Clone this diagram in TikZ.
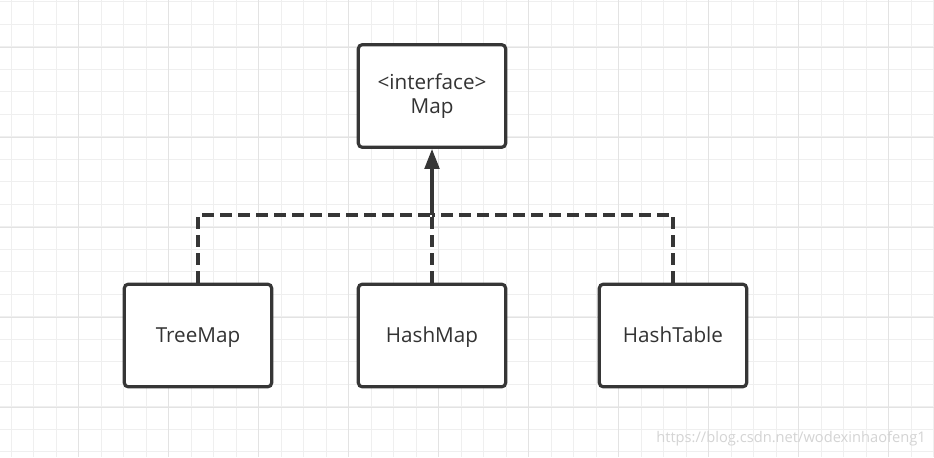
\documentclass[tikz,border=0pt]{standalone}
\usepackage{fontspec}
\setmainfont{Open Sans}
\usetikzlibrary{arrows.meta}
\definecolor{gridminor}{HTML}{EFEFEF}
\definecolor{gridmajor}{HTML}{E3E3E3}
\definecolor{boxgray}{HTML}{363636}
\definecolor{textgray}{HTML}{333333}
\tikzset{
    classbox/.style={draw=boxgray, line width=2.4pt, rounded corners=3pt, fill=white,
        minimum width=110.5pt, minimum height=77pt, inner sep=0pt, align=center,
        text=textgray, font=\fontsize{15.5}{17.5}\selectfont},
    implbox/.style={classbox, text height=11.2pt, text depth=0pt},
    realize/.style={draw=boxgray, line width=2.4pt, dash pattern=on 9pt off 4.5pt}
}
\begin{document}
\begin{tikzpicture}[x=0.75pt, y=-0.75pt]
        \fill[white] (0, 0) rectangle (934, 457);
        \useasboundingbox (0, 0) rectangle (934, 457);
        \foreach \x in {11.2, 33.7, ..., 934} {
            \draw[gridminor, line width=0.9pt] (\x, 0) -- (\x, 457);
        }
        \foreach \y in {1.7, 24.2, ..., 457} {
            \draw[gridminor, line width=0.9pt] (0, \y) -- (934, \y);
        }
        \foreach \x in {78.7, 168.7, ..., 934} {
            \draw[gridmajor, line width=0.9pt] (\x, 0) -- (\x, 457);
        }
        \foreach \y in {47.7, 137.7, ..., 457} {
            \draw[gridmajor, line width=0.9pt] (0, \y) -- (934, \y);
        }

        \node[classbox] (map) at (432, 96) {<interface>\\Map};
        \node[implbox] (treemap) at (198, 335.5) {TreeMap};
        \node[implbox] (hashmap) at (432, 335.5) {HashMap};
        \node[implbox] (hashtable) at (673, 335.5) {HashTable};

        \coordinate (join) at (432, 215);
        \draw[realize] (treemap.north) |- (join);
        \draw[realize] (hashtable.north) |- (join);
        \draw[realize] (hashmap.north) -- (join);
        \draw[boxgray, line width=2.4pt, -{Triangle[length=15pt, width=11pt]}] (join) -- (map.south);

        \node[anchor=east, text=gridmajor!85!gray, font=\fontsize{11}{13}\selectfont, inner sep=0pt]
            (mark) at (926, 439) {https://blog.csdn.net/wodexinhaofeng1};
    \end{tikzpicture}
\end{document}
